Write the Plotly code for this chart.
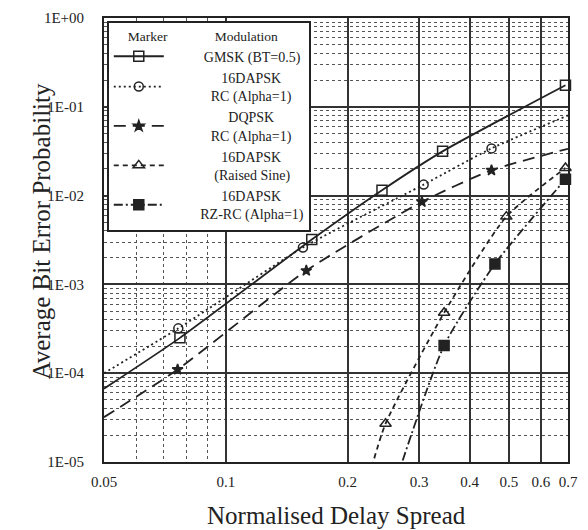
import math
import plotly.graph_objects as go

# ---------------- data ----------------
x_tick_vals = [0.05, 0.1, 0.2, 0.3, 0.4, 0.5, 0.6, 0.7]
x_tick_labels = ["0.05", "0.1", "0.2", "0.3", "0.4", "0.5", "0.6", "0.7"]
x_minor_vals = [0.06, 0.07, 0.08, 0.09]
y_tick_vals = [1e-5, 1e-4, 1e-3, 1e-2, 1e-1, 1e0]
y_tick_labels = ["1E-05", "1E-04", "1E-03", "1E-02", "1E-01", "1E+00"]
y_minor_vals = [m * 10.0 ** e for e in range(-5, 0) for m in range(2, 10)]

# GMSK (BT=0.5)
gmsk_x = [0.077, 0.163, 0.243, 0.343, 0.69]
gmsk_y = [2.5e-4, 3.2e-3, 1.15e-2, 3.15e-2, 0.175]
gmsk_edge_x = [0.05]
gmsk_edge_y = [6.7e-5]

# 16DAPSK RC (Alpha=1)
rc_x = [0.0763, 0.155, 0.308, 0.453]
rc_y = [3.2e-4, 2.6e-3, 1.33e-2, 3.4e-2]
rc_edge_x = [0.05, 0.7]
rc_edge_y = [1.0e-4, 8.0e-2]

# DQPSK RC (Alpha=1)
dq_x = [0.076, 0.158, 0.305, 0.453]
dq_y = [1.1e-4, 1.43e-3, 8.5e-3, 1.93e-2]
dq_edge_x = [0.05, 0.7]
dq_edge_y = [3.2e-5, 3.37e-2]

# 16DAPSK (Raised Sine)
rs_x = [0.248, 0.346, 0.493, 0.69]
rs_y = [2.7e-5, 4.8e-4, 5.8e-3, 2.05e-2]
rs_edge_x = [0.226]
rs_edge_y = [7.0e-6]

# 16DAPSK RZ-RC (Alpha=1)
rz_x = [0.346, 0.462, 0.69]
rz_y = [2.05e-4, 1.7e-3, 1.53e-2]
rz_edge_x = [0.265]
rz_edge_y = [6.8e-6]

# legend label lines (centred in the legend's text column)
legend_lines = [
    ["GMSK (BT=0.5)"],
    ["16DAPSK", "RC (Alpha=1)"],
    ["DQPSK", "RC (Alpha=1)"],
    ["16DAPSK", "(Raised Sine)"],
    ["16DAPSK", "RZ-RC (Alpha=1)"],
]

NB = "\u00a0"
# leading non-breaking-space counts used to centre each label line
legend_pads = [[10], [15, 12], [17, 12], [15, 13], [15, 9]]


def label(lines, pads):
    return "<br>".join(NB * p + t for t, p in zip(lines, pads))


styles = [
    ("solid", "square-open", 10),
    ("2px,3px", "circle-open", 9),
    ("12px,7px", "star", 8),
    ("5px,4px", "triangle-up-open", 10),
    ("9px,3px,2px,3px", "square", 10),
]

data = [
    (gmsk_x, gmsk_y, gmsk_edge_x, gmsk_edge_y),
    (rc_x, rc_y, rc_edge_x, rc_edge_y),
    (dq_x, dq_y, dq_edge_x, dq_edge_y),
    (rs_x, rs_y, rs_edge_x, rs_edge_y),
    (rz_x, rz_y, rz_edge_x, rz_edge_y),
]

INK = "#222222"
FONT = "Liberation Serif"
LW = 1.8

fig = go.Figure()

for (xs, ys, ex, ey), (dash, sym, msz) in zip(data, styles):
    pts = sorted(zip(list(xs) + list(ex), list(ys) + list(ey)))
    fig.add_trace(go.Scatter(
        x=[p[0] for p in pts], y=[p[1] for p in pts], mode="lines",
        line=dict(color=INK, width=LW, dash=dash, shape="spline", smoothing=0.6),
        showlegend=False, hoverinfo="skip"))
    fig.add_trace(go.Scatter(
        x=xs, y=ys, mode="markers",
        marker=dict(symbol=sym, size=msz, color=INK, line=dict(color=INK, width=1.5)),
        showlegend=False, cliponaxis=False))

for i, ((dash, sym, msz), lines, pads) in enumerate(zip(styles, legend_lines, legend_pads)):
    fig.add_trace(go.Scatter(
        x=[None], y=[None], mode="lines+markers", name=label(lines, pads),
        legendgroup=f"g{i}",
        line=dict(color=INK, width=LW, dash=dash),
        marker=dict(symbol=sym, size=msz, color=INK, line=dict(color=INK, width=1.5))))

fig.update_layout(
    width=588, height=530,
    margin=dict(l=104, r=10, t=15, b=68),
    paper_bgcolor="white", plot_bgcolor="white",
    font=dict(family=FONT, size=15, color=INK),
    xaxis=dict(
        type="log", range=[math.log10(0.05), math.log10(0.7)],
        tickmode="array", tickvals=x_tick_vals, ticktext=x_tick_labels,
        ticks="outside", ticklen=5, tickcolor="rgba(0,0,0,0)",
        tickfont=dict(family=FONT, size=15, color=INK),
        showgrid=True, gridcolor="#333333", gridwidth=1.8,
        showline=True, linecolor=INK, linewidth=2, mirror=True, zeroline=False,
        minor=dict(tickmode="array", tickvals=x_minor_vals, showgrid=True,
                   gridcolor="#555555", griddash="dot", gridwidth=1, ticks=""),
    ),
    yaxis=dict(
        type="log", range=[-5, 0],
        tickmode="array", tickvals=y_tick_vals, ticktext=y_tick_labels,
        ticks="outside", ticklen=15, tickcolor="rgba(0,0,0,0)",
        tickfont=dict(family=FONT, size=15, color=INK),
        showgrid=True, gridcolor="#333333", gridwidth=1.8,
        showline=True, linecolor=INK, linewidth=2, mirror=True, zeroline=False,
        minor=dict(tickmode="array", tickvals=y_minor_vals, showgrid=True,
                   gridcolor="#555555", griddash="dot", gridwidth=1, ticks=""),
    ),
    legend=dict(
        x=0.006, y=0.993, xanchor="left", yanchor="top",
        bgcolor="white", bordercolor=INK, borderwidth=2,
        font=dict(family=FONT, size=14, color=INK),
        title=dict(text=NB * 5 + "Marker" + NB * 14 + "Modulation",
                   font=dict(family=FONT, size=13.5, color=INK)),
        tracegroupgap=0, itemwidth=50,
    ),
    annotations=[
        dict(text="Normalised Delay Spread", xref="paper", yref="paper",
             x=0.5, y=-0.121, xanchor="center", yanchor="middle", showarrow=False,
             font=dict(family=FONT, size=25, color=INK)),
        dict(text="Average Bit Error Probability", xref="paper", yref="paper",
             x=-0.135, y=0.52, xanchor="center", yanchor="middle", showarrow=False,
             textangle=-90, font=dict(family=FONT, size=25, color=INK)),
    ],
)

fig.write_html("out.html")
